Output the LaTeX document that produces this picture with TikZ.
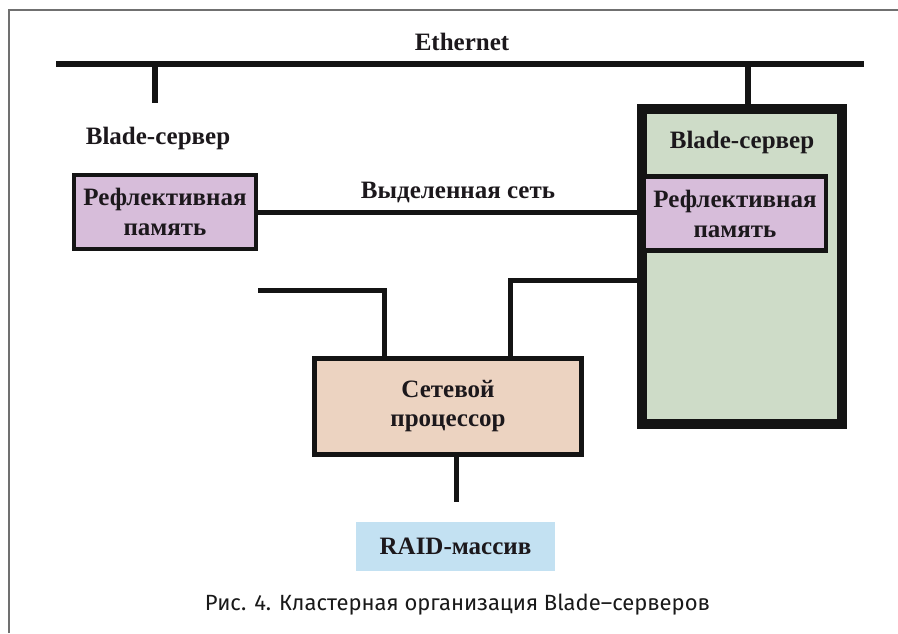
\documentclass[tikz,border=0pt]{standalone}
\usepackage{fontspec}
\setmainfont{Liberation Serif}
\newfontfamily\capfont{Fira Sans}
\definecolor{ink}{HTML}{1C181C}
\definecolor{wire}{HTML}{141414}
\definecolor{frameg}{HTML}{707070}
\definecolor{purp}{HTML}{D7BDDA}
\definecolor{sage}{HTML}{CEDCC8}
\definecolor{peach}{HTML}{ECD3C1}
\definecolor{skyb}{HTML}{C3E1F2}
\tikzset{
  lbl/.style={font=\fontsize{25}{28}\selectfont\bfseries, text=ink, inner sep=0pt, align=center},
  membox/.style={draw=wire, fill=purp, line width=4.5pt, minimum width=182pt, minimum height=74pt, inner sep=0pt, font=\fontsize{25}{30}\selectfont\bfseries, text=ink, align=center},
  bigbox/.style={draw=wire, fill=sage, line width=10pt, minimum width=200pt, minimum height=315pt, inner sep=0pt},
  procbox/.style={draw=wire, fill=peach, line width=5pt, minimum width=267pt, minimum height=96pt, inner sep=0pt, font=\fontsize{25}{29}\selectfont\bfseries, text=ink, align=center},
  raidbox/.style={fill=skyb, minimum width=199pt, minimum height=49pt, inner sep=0pt, font=\fontsize{25}{28}\selectfont\bfseries, text=ink},
  wireline/.style={draw=wire, line width=5pt},
}
\begin{document}
\begin{tikzpicture}[x=1pt,y=-1pt]
\useasboundingbox (0,0) rectangle (898,633);
\fill[white] (0,0) rectangle (898,633);
% frame
\draw[frameg, line width=1.2pt] (9,633) -- (9,10) -- (898,10);
% Ethernet bus
\coordinate (ethL) at (56,64);
\coordinate (ethR) at (864,64);
\draw[wireline, line width=6pt] (ethL) -- (ethR);
\node[lbl] (ethlbl) at (462,42) {Ethernet};
% left blade server
\coordinate (dropL) at (155,103);
\draw[wireline, line width=6pt] (dropL |- ethL) -- (dropL);
\node[lbl] (bladeL) at (158,138) {Blade-сервер};
\node[membox] (memL) at (165,212) {Рефлективная\\память};
% right blade server
\node[bigbox] (big) at (742,266.5) {};
\node[lbl] (bladeR) at (742,142) {Blade-сервер};
\node[membox] (memR) at (735,213.5) {Рефлективная\\память};
\draw[wireline, line width=6pt] (748,64) -- (748,104);
% dedicated network
\draw[wireline] (memL.east) -- (memR.west |- memL.east);
\node[lbl] (netlbl) at (458,192) {Выделенная сеть};
% network processor
\node[procbox] (proc) at (448,406.5) {Сетевой\\процессор};
\coordinate (freeL) at (258,290);
\draw[wireline] (freeL) -| ([xshift=-64pt]proc.north);
\coordinate (bigjoin) at (640,280);
\draw[wireline] (bigjoin) -| ([xshift=62pt]proc.north);
% RAID
\node[raidbox] (raid) at (455.5,546.5) {RAID-массив};
\coordinate (raidtop) at (456,502);
\draw[wireline] (proc.south -| raidtop) -- (raidtop);
% caption
\node[font=\capfont\fontsize{22}{26}\selectfont, text=black!90, inner sep=0pt] (cap) at (457.5,605) {Рис. 4. Кластерная организация Blade–серверов};
\end{tikzpicture}
\end{document}
